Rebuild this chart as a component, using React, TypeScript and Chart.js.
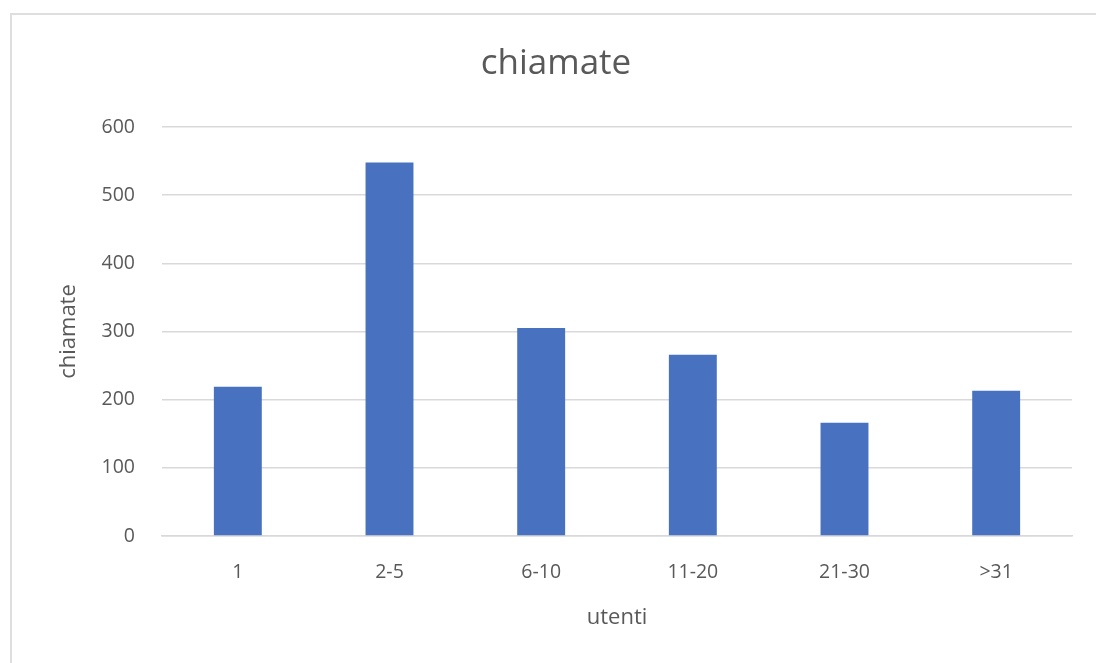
import React, { useEffect, useRef } from "react";
import { Chart, registerables } from "chart.js";

Chart.register(...registerables);

const categories = ["1", "2-5", "6-10", "11-20", "21-30", ">31"];
const chiamateValues = [219, 548, 305, 266, 166, 213];
const yTicks = [0, 100, 200, 300, 400, 500, 600];
const chartTitle = "chiamate";
const xTitle = "utenti";
const yTitle = "chiamate";

const FONT = "'Open Sans', 'Noto Sans', sans-serif";
const TEXT = "#595959";
const GRID = "#d9d9d9";

export default function App() {
  const ref = useRef<HTMLCanvasElement | null>(null);

  useEffect(() => {
    document.body.style.margin = "0";
    const canvas = ref.current;
    if (!canvas) return;
    const chart = new Chart(canvas, {
      type: "bar",
      data: {
        labels: categories,
        datasets: [
          {
            label: yTitle,
            data: chiamateValues,
            backgroundColor: "#4872C0",
            borderWidth: 0,
            categoryPercentage: 1,
            barPercentage: 0.316,
          },
        ],
      },
      options: {
        responsive: false,
        animation: false,
        layout: { padding: { left: 16, right: 0, top: 0, bottom: 0 } },
        plugins: {
          legend: { display: false },
          tooltip: { enabled: false },
          title: {
            display: true,
            text: chartTitle,
            color: TEXT,
            font: { family: FONT, size: 35, weight: "normal" },
            padding: { top: 43.5, bottom: 41.5 },
          },
        },
        scales: {
          x: {
            grid: { display: false, drawTicks: false },
            border: { display: true, color: GRID, width: 1.5 },
            ticks: {
              color: TEXT,
              font: { family: FONT, size: 19.5 },
              padding: 25,
              maxRotation: 0,
            },
            title: {
              display: true,
              text: xTitle,
              color: TEXT,
              font: { family: FONT, size: 22 },
              padding: { top: 0, bottom: 32 },
            },
            afterFit: (s: any) => {
              s.height = 127;
            },
          },
          y: {
            min: 0,
            max: 600,
            afterBuildTicks: (s: any) => {
              s.ticks = yTicks.map((v) => ({ value: v }));
            },
            grid: { color: GRID, lineWidth: 1.5, drawTicks: false },
            border: { display: false },
            ticks: {
              color: TEXT,
              font: { family: FONT, size: 19.5 },
              padding: 27,
            },
            title: {
              display: true,
              text: yTitle,
              color: TEXT,
              font: { family: FONT, size: 22 },
              padding: { top: 40, bottom: 0 },
            },
            afterFit: (s: any) => {
              s.width = 146;
            },
          },
          yRight: {
            type: "linear",
            position: "right",
            display: true,
            grid: { display: false, drawTicks: false },
            border: { display: false },
            ticks: { display: false },
            afterFit: (s: any) => {
              s.width = 24;
            },
          },
        },
      },
    });
    return () => chart.destroy();
  }, []);

  return (
    <div
      style={{
        position: "fixed",
        left: 0,
        top: 0,
        width: 1096,
        height: 663,
        background: "#ffffff",
        overflow: "hidden",
      }}
    >
      <div
        style={{
          position: "absolute",
          left: 10,
          top: 13,
          width: 1200,
          height: 800,
          borderLeft: "2px solid #dedede",
          borderTop: "2px solid #dedede",
        }}
      />
      <canvas
        ref={ref}
        width={1096}
        height={663}
        style={{ position: "absolute", left: 0, top: 0 }}
      />
    </div>
  );
}
